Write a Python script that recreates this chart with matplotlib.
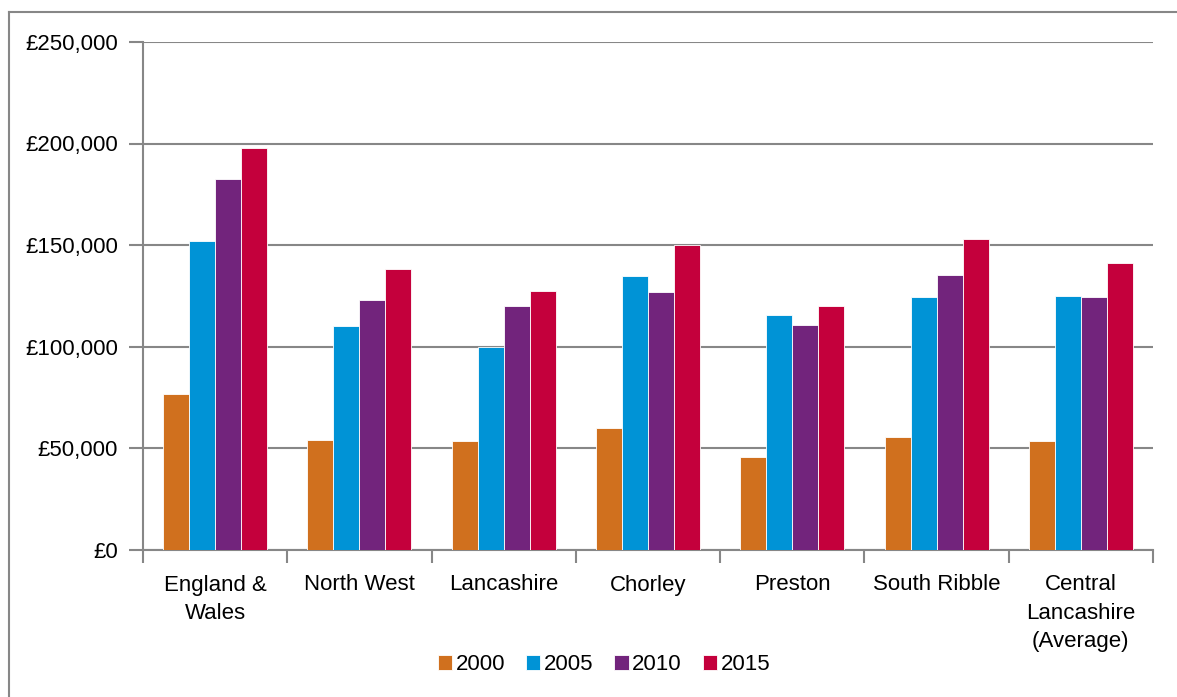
import numpy as np
import matplotlib
matplotlib.use("Agg")
import matplotlib.pyplot as plt
from matplotlib.lines import Line2D
from matplotlib.ticker import FuncFormatter

plt.rcParams["font.family"] = ["Liberation Sans", "DejaVu Sans"]

# areas along the x axis
areas = ["England &\nWales", "North West", "Lancashire", "Chorley", "Preston",
         "South Ribble", "Central\nLancashire\n(Average)"]
years = ["2000", "2005", "2010", "2015"]

# values (GBP)
v2000 = [76500, 54000, 53500, 59700, 45500, 55600, 53600]
v2005 = [152000, 110000, 100000, 134500, 115500, 124500, 124800]
v2010 = [182700, 123000, 120000, 126800, 110800, 135000, 124300]
v2015 = [197600, 138000, 127500, 150000, 120000, 153000, 141000]
series = [v2000, v2005, v2010, v2015]

colours = ["#D0701E", "#0093D6", "#72247C", "#C4003C"]
grey = "#878787"
fs = 16

fig = plt.figure(figsize=(11.77, 6.97), dpi=100)
ax = fig.add_axes([143 / 1177, 1 - 549.5 / 697, 1010 / 1177, 507.5 / 697])

x = np.arange(len(areas))
w = 0.18
for i, (vals, col) in enumerate(zip(series, colours)):
    ax.bar(x + (i - 1.5) * w, vals, width=w, color=col, label=years[i],
           edgecolor="white", linewidth=0.6, zorder=3)

ax.set_xlim(-0.5, len(areas) - 0.5)
ax.set_ylim(0, 250000)
ax.set_yticks(range(0, 250001, 50000))
ax.yaxis.set_major_formatter(FuncFormatter(lambda v, p: "£{:,.0f}".format(v)))
ax.grid(axis="y", color=grey, linewidth=1.5, zorder=0)

# category labels centred, tick marks between groups
ax.set_xticks(x)
ax.set_xticklabels(areas, fontsize=fs, linespacing=1.45)
ax.tick_params(axis="x", length=0, pad=18)
ax.set_xticks(np.arange(-0.5, len(areas)), minor=True)
ax.tick_params(axis="x", which="minor", length=9, width=1.5, color=grey)
ax.tick_params(axis="y", length=10, width=1.5, color=grey, labelsize=fs, pad=8)

for s in ["top", "right"]:
    ax.spines[s].set_visible(False)
for s in ["left", "bottom"]:
    ax.spines[s].set_color(grey)
    ax.spines[s].set_linewidth(1.5)

ax.legend(loc="center", bbox_to_anchor=(604 / 1177, 1 - 665 / 697),
          bbox_transform=fig.transFigure, ncol=4, frameon=False,
          fontsize=fs, handlelength=0.65, handleheight=0.65,
          handletextpad=0.15, columnspacing=0.95)

# outer frame of the original figure
fig.add_artist(Line2D([9 / 1177, 9 / 1177], [0, 1 - 12 / 697],
                      transform=fig.transFigure, color=grey, linewidth=1.5))
fig.add_artist(Line2D([9 / 1177, 1], [1 - 12 / 697, 1 - 12 / 697],
                      transform=fig.transFigure, color=grey, linewidth=1.5))

fig.savefig("out.png", dpi=100)
